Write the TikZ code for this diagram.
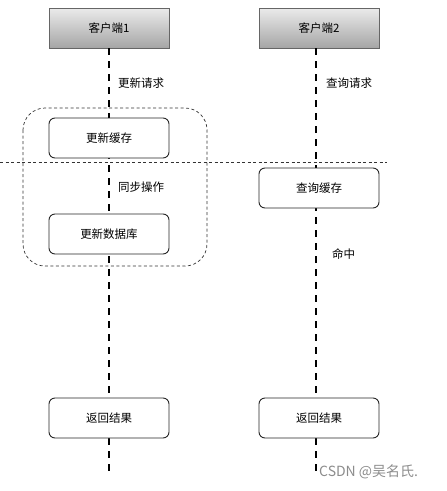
\documentclass[tikz,border=0pt]{standalone}
\usepackage{fontspec}
\setmainfont{Noto Sans CJK SC}
\begin{document}
\begin{tikzpicture}[x=1pt,y=-1pt,
  every node/.style={font=\fontsize{11.5}{13}\selectfont},
  client/.style={draw=black!60, line width=0.8pt, top color=black!8, bottom color=black!35, minimum width=120pt, minimum height=40pt, inner sep=0pt},
  actbox/.style={draw=black!85, line width=0.9pt, fill=white, rounded corners=6pt, minimum width=120pt, minimum height=40pt, inner sep=0pt},
  lifeline/.style={line width=2pt, dash pattern=on 7pt off 6pt},
  thindash/.style={line width=0.7pt, dash pattern=on 3pt off 2.5pt, draw=black!80},
  lbl/.style={anchor=west, inner sep=0pt}]
\useasboundingbox (0,0) rectangle (447,491);
% lifeline end coordinates
\coordinate (e1) at (109,474);
\coordinate (e2) at (316,474);
% client boxes
\node[client] (c1) at (109,28) {客户端1};
\node[client] (c2) at (319,28) {客户端2};
% lifelines
\draw[lifeline] (109,48) -- (e1);
\draw[lifeline] (316,48) -- (e2);
% group box
\draw[thindash, rounded corners=22pt] (23,108) rectangle (207,266);
% horizontal separator
\coordinate (h1) at (0,162);
\coordinate (h2) at (387,162);
\draw[thindash] (h1) -- (h2);
% activity boxes
\node[actbox] (u1) at (109,138) {更新缓存};
\node[actbox] (u2) at (109,234) {更新数据库};
\node[actbox] (q1) at (319,188) {查询缓存};
\node[actbox] (r1) at (109,418) {返回结果};
\node[actbox] (r2) at (319,418) {返回结果};
% labels
\node[lbl] (l1) at (118,83) {更新请求};
\node[lbl] (l2) at (326,83) {查询请求};
\node[lbl] (l3) at (118,187) {同步操作};
\node[lbl] (l4) at (332,254) {命中};
\node[lbl, text=black!45, font=\fontsize{14}{16}\selectfont] (wm) at (319,472) {CSDN @吴名氏.};
\end{tikzpicture}
\end{document}
